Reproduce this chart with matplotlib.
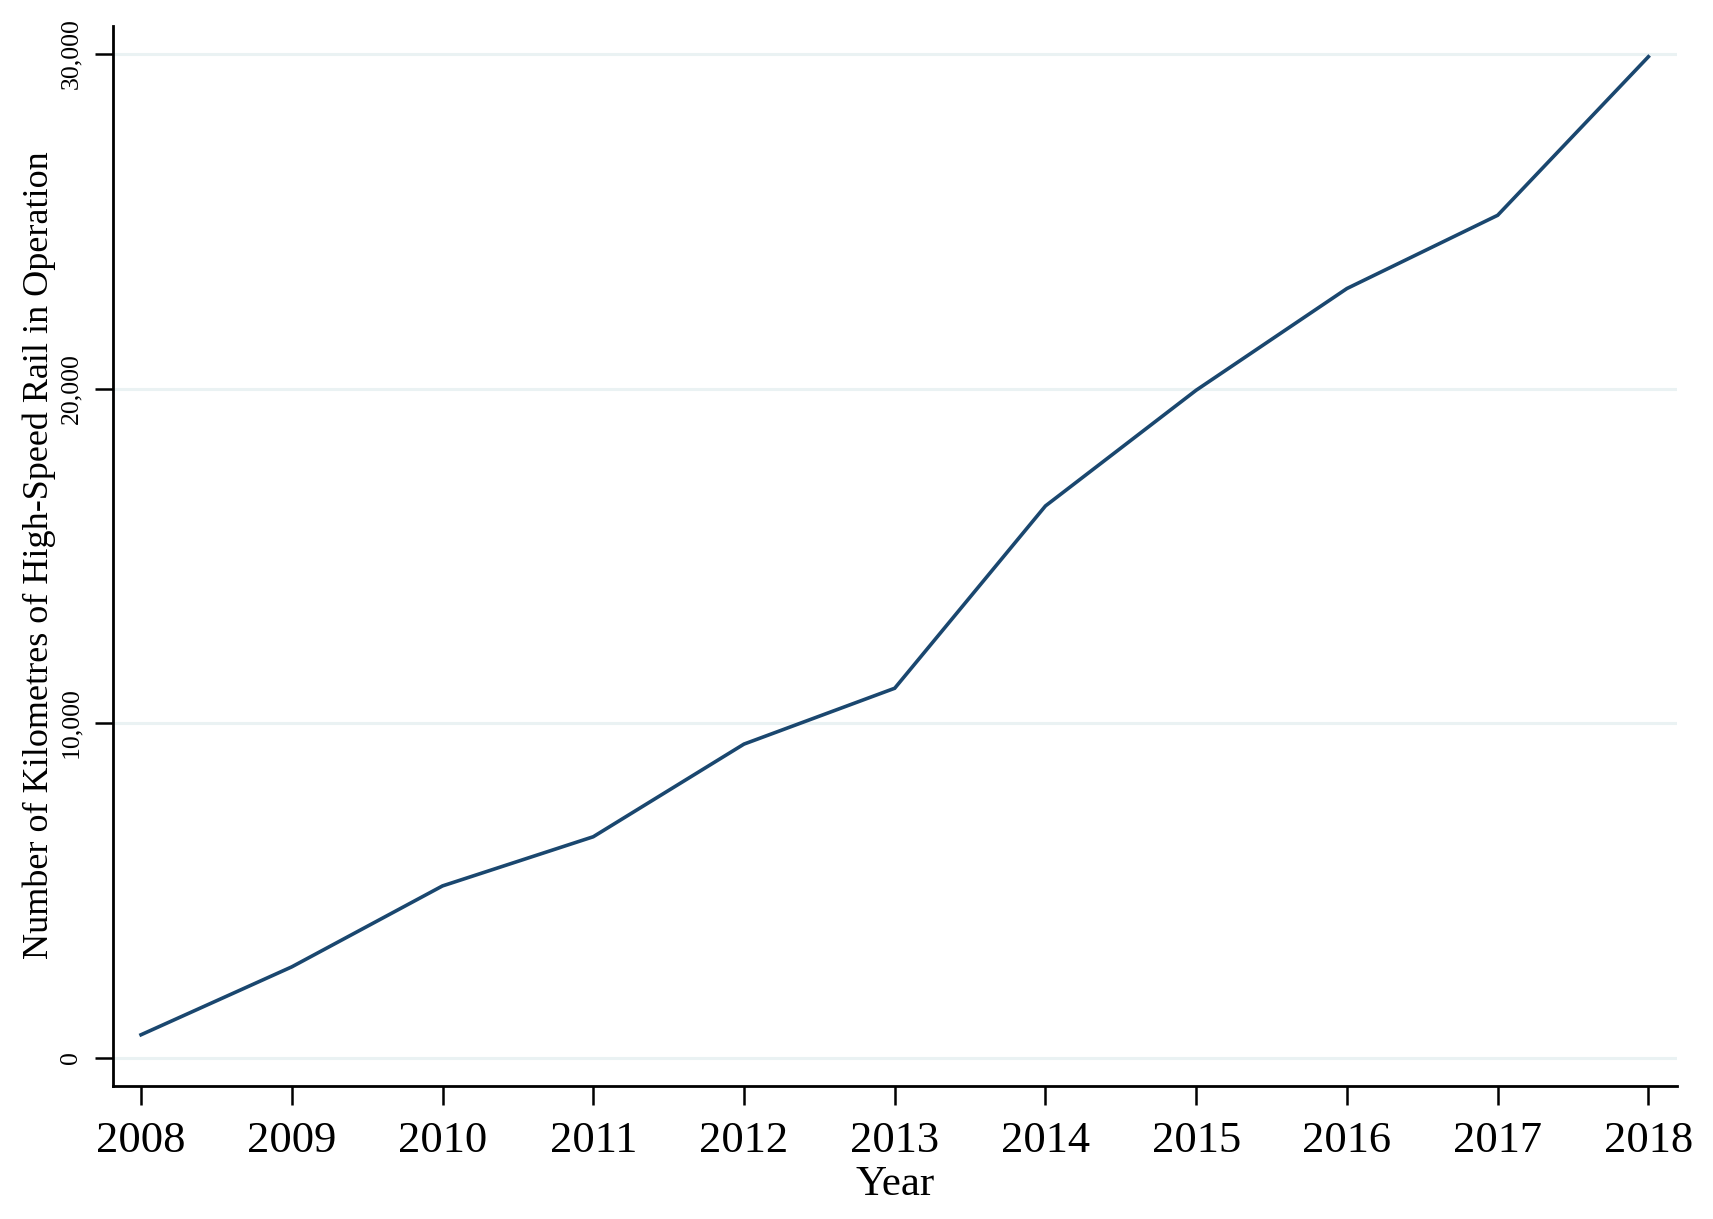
import matplotlib
matplotlib.use("Agg")
import matplotlib.pyplot as plt

years = [2008, 2009, 2010, 2011, 2012, 2013, 2014, 2015, 2016, 2017, 2018]
km = [680, 2710, 5130, 6600, 9370, 11040, 16490, 19950, 22990, 25180, 29920]
yticks = [0, 10000, 20000, 30000]
ytick_labels = ["0", "10,000", "20,000", "30,000"]

plt.rcParams['font.family'] = ['Liberation Serif', 'DejaVu Serif']

fig = plt.figure(figsize=(17.13, 12.19), dpi=100)
ax = fig.add_axes([0.0657, 0.1091, 0.9133, 0.8696])

ax.set_yticks(yticks)
ax.set_yticklabels(ytick_labels)
for y in yticks:
    ax.axhline(y, color='#eaf2f3', lw=2.2, zorder=1)

ax.plot(years, km, color='#1a476f', lw=2.6, zorder=3, solid_joinstyle='miter')

ax.set_xlim(2007.811, 2018.19)
ax.set_ylim(-852, 30840)
ax.set_xticks(years)
ax.set_xticklabels([str(y) for y in years])

for s in ['top', 'right']:
    ax.spines[s].set_visible(False)
for s in ['left', 'bottom']:
    ax.spines[s].set_linewidth(2.0)
    ax.spines[s].set_color('black')

ax.tick_params(axis='x', length=14, width=1.8, labelsize=32, pad=11)
ax.tick_params(axis='y', length=13, width=1.8, labelsize=18.5, pad=9)
for lab in ax.get_yticklabels():
    lab.set_rotation(90)
    lab.set_va('center')
    lab.set_ha('right')

ax.set_xlabel("Year", fontsize=31, va='center')
ax.xaxis.set_label_coords(0.5, -0.0935)
ax.set_ylabel("Number of Kilometres of High-Speed Rail in Operation", fontsize=26, va='center')
ax.yaxis.set_label_coords(-0.047, 0.501)

fig.savefig("out.png", dpi=100, facecolor='white')
